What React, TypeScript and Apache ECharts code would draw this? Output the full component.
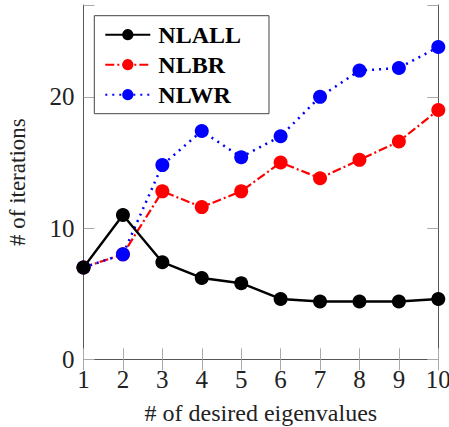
import React, { useEffect, useRef } from "react";
import * as echarts from "echarts";

const xValues = [1, 2, 3, 4, 5, 6, 7, 8, 9, 10];
const nlall = [7, 11, 7.4, 6.2, 5.8, 4.6, 4.4, 4.4, 4.4, 4.6];
const nlbr = [7, 8, 12.8, 11.6, 12.8, 15, 13.8, 15.2, 16.6, 19];
const nlwr = [7, 8, 14.8, 17.4, 15.4, 17, 20, 22, 22.2, 23.8];
const seriesNames = ["NLALL", "NLBR", "NLWR"];
const xName = "# of desired eigenvalues";
const yName = "# of iterations";

const FONT = "Liberation Serif";

export default function App() {
  const ref = useRef<HTMLDivElement>(null);
  useEffect(() => {
    if (!ref.current) return;
    const chart = echarts.init(ref.current, undefined, { renderer: "svg" });
    const pair = (ys: number[]) => xValues.map((x, i) => [x, ys[i]]);
    const axisLine = { show: true, lineStyle: { color: "#555", width: 1 } };
    const tick = { show: true, inside: true, length: 11, lineStyle: { color: "#aaa", width: 1 } };
    chart.setOption({
      animation: false,
      textStyle: { fontFamily: FONT },
      grid: {
        left: 83.5,
        right: 10.7,
        top: 5,
        bottom: 67.7,
        containLabel: false,
        outerBoundsMode: "none",
      },
      legend: {
        orient: "vertical",
        left: 94.3,
        top: 15.7,
        padding: [7, 28, 7, 10],
        itemWidth: 45,
        itemHeight: 14,
        itemGap: 6,
        borderColor: "#444",
        borderWidth: 1,
        backgroundColor: "#fff",
        data: seriesNames,
        textStyle: {
          fontFamily: FONT,
          fontWeight: "bold",
          fontSize: 24,
          color: "#000",
          padding: [0, 0, 0, 3],
        },
      },
      xAxis: [
        {
          type: "value",
          min: 1,
          max: 10,
          interval: 1,
          position: "bottom",
          name: xName,
          nameLocation: "middle",
          nameGap: 42,
          nameTextStyle: { fontFamily: FONT, fontSize: 24, color: "#222" },
          axisLine,
          axisTick: tick,
          splitLine: { show: false },
          axisLabel: { fontFamily: FONT, fontSize: 25, color: "#222", margin: 8 },
        },
        {
          type: "value",
          min: 1,
          max: 10,
          interval: 1,
          position: "top",
          axisLine,
          axisTick: tick,
          splitLine: { show: false },
          axisLabel: { show: false },
        },
      ],
      yAxis: [
        {
          type: "value",
          min: 0,
          max: 27,
          interval: 10,
          position: "left",
          name: yName,
          nameLocation: "middle",
          nameGap: 55,
          nameTextStyle: { fontFamily: FONT, fontSize: 23, color: "#222" },
          axisLine,
          axisTick: tick,
          splitLine: { show: false },
          axisLabel: {
            fontFamily: FONT,
            fontSize: 25,
            color: "#222",
            margin: 9,
            formatter: (v: number) => (v % 10 === 0 ? String(v) : ""),
          },
        },
        {
          type: "value",
          min: 0,
          max: 27,
          interval: 10,
          position: "right",
          axisLine,
          axisTick: tick,
          splitLine: { show: false },
          axisLabel: { show: false },
        },
      ],
      series: [
        {
          name: seriesNames[0],
          type: "line",
          data: pair(nlall),
          symbol: "circle",
          symbolSize: 14,
          itemStyle: { color: "#000" },
          lineStyle: { color: "#000", width: 2.4, type: "solid" },
          z: 3,
        },
        {
          name: seriesNames[1],
          type: "line",
          data: pair(nlbr),
          symbol: "circle",
          symbolSize: 14,
          itemStyle: { color: "#ff0000" },
          lineStyle: { color: "#ff0000", width: 2.2, type: [9, 3, 2, 3] },
          z: 2,
        },
        {
          name: seriesNames[2],
          type: "line",
          data: pair(nlwr),
          symbol: "circle",
          symbolSize: 14,
          itemStyle: { color: "#0000ff" },
          lineStyle: { color: "#0000ff", width: 2.5, type: [2, 5] },
          z: 2,
        },
      ],
    });
    return () => chart.dispose();
  }, []);
  return <div ref={ref} style={{ width: 449, height: 427, position: "absolute", left: 0, top: 0 }} />;
}
